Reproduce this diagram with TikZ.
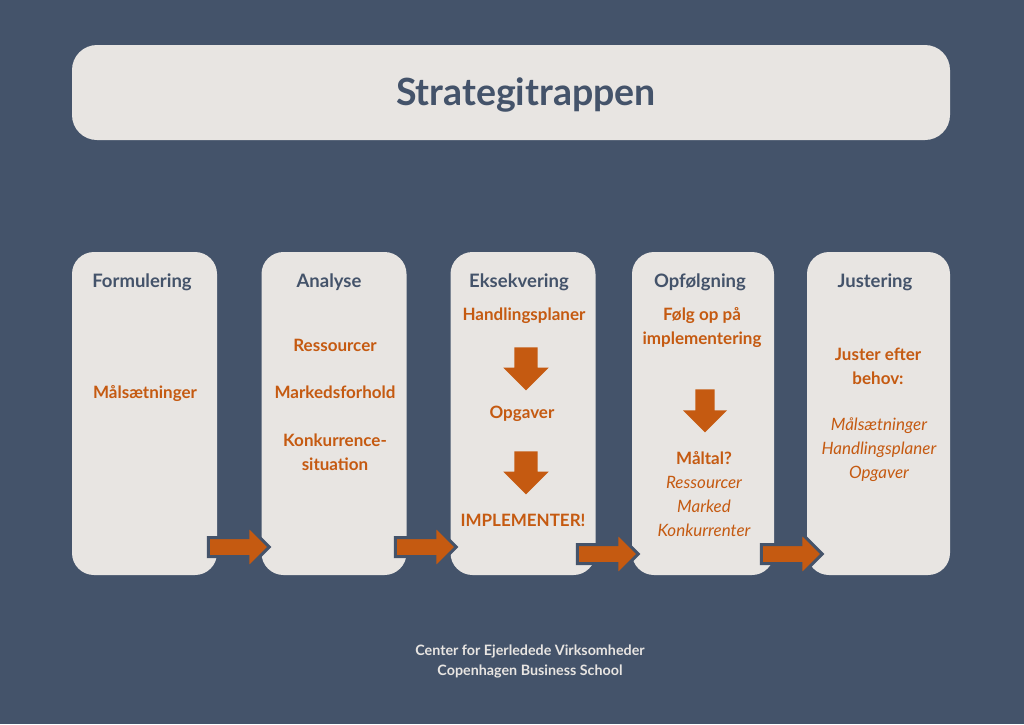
\documentclass[tikz,border=0pt]{standalone}
\usepackage{fontspec}
\setmainfont{Lato}
\usepackage{tikz}
\usetikzlibrary{shapes, arrows, positioning}

\definecolor{slate}{HTML}{44536A}
\definecolor{paper}{HTML}{E8E5E2}
\definecolor{rust}{HTML}{C55A11}

\begin{document}
\begin{tikzpicture}[
    x=1pt, y=-1pt,
    step box/.style={rectangle, rounded corners=22pt, fill=paper, minimum width=145pt, minimum height=323pt},
    head/.style={text=slate, font=\bfseries\fontsize{18.5}{20}\selectfont},
    item/.style={text=rust, font=\bfseries\fontsize{17}{24}\selectfont, align=center},
    soft/.style={text=rust, font=\itshape\fontsize{17}{24}\selectfont, align=center},
    next/.style={single arrow, draw=slate, line width=3pt, fill=rust, inner sep=8pt, minimum width=40pt, minimum height=61pt, single arrow head extend=12pt, single arrow tip angle=90},
    down/.style={single arrow, shape border rotate=270, fill=rust, inner sep=0pt, minimum width=44pt, minimum height=43pt, single arrow head extend=11pt}
]
    % Background
    \fill[slate] (0,0) rectangle (1024,724);
    \useasboundingbox (0,0) rectangle (1024,724);

    % Title
    \node[rectangle, rounded corners=25pt, fill=paper, minimum width=878pt, minimum height=95pt] (title) at (511,92.5) {};
    \node[text=slate, font=\bfseries\fontsize{37.5}{40}\selectfont] (titletext) at (526,94.5) {Strategitrappen};

    % Steps
    \node[step box] (form) at (144.5,413.5) {};
    \node[step box] (anal) at (334,413.5) {};
    \node[step box] (eks) at (523,413.5) {};
    \node[step box, minimum width=142pt] (opf) at (703,413.5) {};
    \node[step box, minimum width=143pt] (just) at (878.5,413.5) {};

    % Formulering
    \node[head] (formh) at (142,282) {Formulering};
    \node[item] (mal) at (145,394) {Målsætninger};

    % Analyse
    \node[head] (analh) at (329,282) {Analyse};
    \node[item] (res) at (335,345) {Ressourcer};
    \node[item] (mark) at (335,392) {Markedsforhold};
    \node[item] (konk) at (335,452) {Konkurrence-\\situation};

    % Eksekvering
    \node[head] (eksh) at (519,282) {Eksekvering};
    \node[item] (hand) at (524,316) {Handlingsplaner};
    \node[down, inner xsep=11.5pt] (d1) at (526,363) {};
    \node[item] (opg) at (522,414) {Opgaver};
    \node[down, inner xsep=11.5pt] (d2) at (526,467) {};
    \node[item] (impl) at (523,520) {IMPLEMENTER!};

    % Opfoelgning
    \node[head] (opfh) at (700,282) {Opfølgning};
    \node[item] (folg) at (702,328) {Følg op på\\implementering};
    \node[down, inner xsep=8.5pt, minimum height=43pt] (d3) at (705,406) {};
    \node[item] (maltal) at (704,458) {Måltal?};
    \node[soft] (mlist) at (704,506) {Ressourcer\\Marked\\Konkurrenter};

    % Justering
    \node[head] (justh) at (875,282) {Justering};
    \node[item] (behov) at (878,366.5) {Juster efter\\behov:};
    \node[soft] (jlist) at (879,450) {Målsætninger\\Handlingsplaner\\Opgaver};

    % Arrows
    \node[next] (a1) at (234,547) {};
    \node[next] (a2) at (421,547) {};
    \node[next] (a3) at (603,554) {};
    \node[next] (a4) at (787,554) {};

    % Footer
    \node[text=paper, font=\bfseries\fontsize{14.3}{20}\selectfont, align=center] (foot) at (530,661) {Center for Ejerledede Virksomheder\\Copenhagen Business School};
\end{tikzpicture}
\end{document}
